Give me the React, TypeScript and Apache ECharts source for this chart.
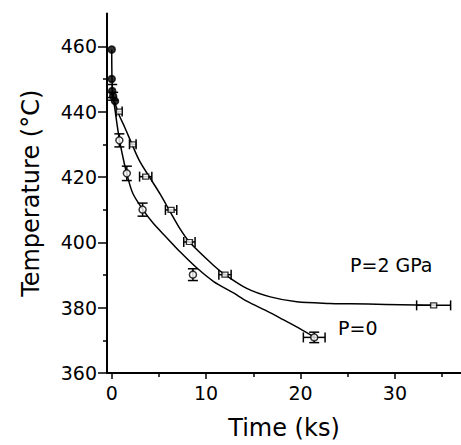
import React, { useEffect, useRef } from "react";
import * as echarts from "echarts";

// P = 0 (circles, vertical error bars)
const p0Time = [0, 0, 0.05, 0.15, 0.35, 0.81, 1.6, 3.27, 8.6, 21.45];
const p0Temp = [459, 450, 446.3, 444.7, 443.2, 431.2, 421.1, 410, 390.1, 370.9];
const p0TempErr = [0, 0, 2, 1.2, 0, 2, 2.2, 2, 1.8, 1.6];
const p0TimeErr = [0, 0, 0, 0, 0, 0, 0, 0, 0, 1.15];
const p0FilledCount = 5;

// P = 2 GPa (squares, horizontal error bars)
const p2Time = [0.8, 2.23, 3.6, 6.29, 8.23, 12.0, 34.1];
const p2Temp = [440, 430, 420.1, 409.9, 400.1, 390.1, 380.7];
const p2TimeErr = [0.3, 0.35, 0.65, 0.6, 0.6, 0.65, 1.8];
const p2TempErr = [0, 0, 0, 0, 0, 0, 0];

// fitted curves
const p0CurveTime = [0, 0.03, 0.12, 0.35, 0.81, 1.23, 1.6, 2.23, 3.3, 4.4, 5.8, 7.24, 9, 10.8, 12.9, 14.3, 16.4, 17.85, 19.97, 21.45];
const p0CurveTemp = [459, 450, 445.5, 440.5, 431.5, 425.5, 421, 415, 410, 405.8, 401.5, 397.1, 392.2, 388, 384.5, 382, 379, 376.8, 373.5, 371];
const p2CurveTime = [0.3, 0.7, 1.41, 2.15, 2.93, 3.99, 5.12, 6.2, 7.24, 8.23, 10.77, 12, 14.3, 16.8, 19.6, 23.1, 25.3, 29, 32.3, 34.1];
const p2CurveTemp = [443, 439.5, 435, 430, 425, 420, 414.8, 409.3, 404.1, 400.1, 393, 390.1, 385.9, 383.3, 381.8, 381.3, 381.2, 381, 380.8, 380.7];

const xMajorTicks = [0, 10, 20, 30];
const xMinorTicks = [5, 15, 25, 35];
const yMajorTicks = [360, 380, 400, 420, 440, 460];
const yMinorTicks = [370, 390, 410, 430, 450];

const FONT = "'DejaVu Sans', Arial, Helvetica, sans-serif";

function zip(...arrs: number[][]) {
  return arrs[0].map((_, i) => arrs.map((a) => a[i]));
}

function errorBarRender(params: any, api: any) {
  const x = api.value(0);
  const y = api.value(1);
  const xe = api.value(2);
  const ye = api.value(3);
  const style = { stroke: "#000", lineWidth: 1.5, fill: "none" };
  const children: any[] = [];
  const cap = 5;
  if (ye > 0) {
    const t = api.coord([x, y + ye]);
    const b = api.coord([x, y - ye]);
    children.push({ type: "line", shape: { x1: t[0], y1: t[1], x2: b[0], y2: b[1] }, style });
    children.push({ type: "line", shape: { x1: t[0] - cap, y1: t[1], x2: t[0] + cap, y2: t[1] }, style });
    children.push({ type: "line", shape: { x1: b[0] - cap, y1: b[1], x2: b[0] + cap, y2: b[1] }, style });
  }
  if (xe > 0) {
    const l = api.coord([x - xe, y]);
    const r = api.coord([x + xe, y]);
    children.push({ type: "line", shape: { x1: l[0], y1: l[1], x2: r[0], y2: r[1] }, style });
    children.push({ type: "line", shape: { x1: l[0], y1: l[1] - cap, x2: l[0], y2: l[1] + cap }, style });
    children.push({ type: "line", shape: { x1: r[0], y1: r[1] - cap, x2: r[0], y2: r[1] + cap }, style });
  }
  return { type: "group", children };
}

export default function App() {
  const ref = useRef<HTMLDivElement>(null);
  useEffect(() => {
    if (!ref.current) return;
    const chart = echarts.init(ref.current, null, { renderer: "svg" });
    const axisCommon = {
      type: "value",
      splitLine: { show: false },
    };
    const option: any = {
      animation: false,
      backgroundColor: "#fff",
      textStyle: { fontFamily: FONT },
      grid: { left: 107, right: 0, top: 13.6, bottom: 70, containLabel: false },
      xAxis: [
        {
          ...axisCommon,
          min: -0.5,
          max: 37,
          name: "Time (ks)",
          nameLocation: "middle",
          nameGap: 43,
          nameTextStyle: { fontSize: 24, color: "#000", fontFamily: FONT },
          axisLine: { onZero: false, lineStyle: { color: "#000", width: 2 } },
          axisTick: { customValues: xMajorTicks, length: 6, lineStyle: { color: "#000", width: 1.5 } },
          axisLabel: { customValues: xMajorTicks, margin: 10, fontSize: 19, color: "#000", fontFamily: FONT },
        },
        {
          ...axisCommon,
          min: -0.5,
          max: 37,
          position: "bottom",
          axisLine: { show: false, onZero: false },
          axisTick: { customValues: xMinorTicks, length: 4, lineStyle: { color: "#000", width: 1.5 } },
          axisLabel: { show: false },
        },
      ],
      yAxis: [
        {
          ...axisCommon,
          min: 360,
          max: 470,
          name: "Temperature (°C)",
          nameLocation: "middle",
          nameRotate: 90,
          nameGap: 64,
          nameTextStyle: { fontSize: 24, color: "#000", fontFamily: FONT },
          axisLine: { onZero: false, lineStyle: { color: "#000", width: 2 } },
          axisTick: { customValues: yMajorTicks, length: 9, lineStyle: { color: "#000", width: 1.5 } },
          axisLabel: { customValues: yMajorTicks, margin: 10, fontSize: 19, color: "#000", fontFamily: FONT },
        },
        {
          ...axisCommon,
          min: 360,
          max: 470,
          position: "left",
          axisLine: { show: false, onZero: false },
          axisTick: { customValues: yMinorTicks, length: 4, lineStyle: { color: "#000", width: 1.5 } },
          axisLabel: { show: false },
        },
      ],
      series: [
        {
          name: "P=0 fit",
          type: "line",
          data: zip(p0CurveTime, p0CurveTemp),
          smooth: 0.3,
          showSymbol: false,
          lineStyle: { color: "#000", width: 1.5 },
          z: 2,
        },
        {
          name: "P=2 GPa fit",
          type: "line",
          data: zip(p2CurveTime, p2CurveTemp),
          smooth: 0.3,
          showSymbol: false,
          lineStyle: { color: "#000", width: 1.5 },
          z: 2,
        },
        {
          name: "P=0 errors",
          type: "custom",
          renderItem: errorBarRender,
          data: zip(p0Time, p0Temp, p0TimeErr, p0TempErr),
          encode: { x: 0, y: 1 },
          z: 3,
        },
        {
          name: "P=2 GPa errors",
          type: "custom",
          renderItem: errorBarRender,
          data: zip(p2Time, p2Temp, p2TimeErr, p2TempErr),
          encode: { x: 0, y: 1 },
          z: 3,
        },
        {
          name: "P=0",
          type: "scatter",
          symbol: "circle",
          symbolSize: 7,
          data: p0Time.map((t, i) => ({
            value: [t, p0Temp[i]],
            itemStyle: { color: i < p0FilledCount ? "#000" : "#fff" },
          })),
          itemStyle: { borderColor: "#000", borderWidth: 1.5 },
          z: 4,
        },
        {
          name: "P=2 GPa",
          type: "scatter",
          symbol: "rect",
          symbolSize: [6, 5],
          data: zip(p2Time, p2Temp),
          itemStyle: { color: "#fff", borderColor: "#000", borderWidth: 1.3 },
          z: 4,
        },
      ],
      graphic: [
        {
          type: "text",
          left: 350,
          top: 255,
          style: { text: "P=2 GPa", fontSize: 19, fill: "#000", fontFamily: FONT },
        },
        {
          type: "text",
          left: 338,
          top: 318,
          style: { text: "P=0", fontSize: 19, fill: "#000", fontFamily: FONT },
        },
      ],
    };
    chart.setOption(option);
    return () => chart.dispose();
  }, []);
  return (
    <div
      ref={ref}
      style={{ position: "absolute", left: 0, top: 0, width: 461, height: 445 }}
    />
  );
}
